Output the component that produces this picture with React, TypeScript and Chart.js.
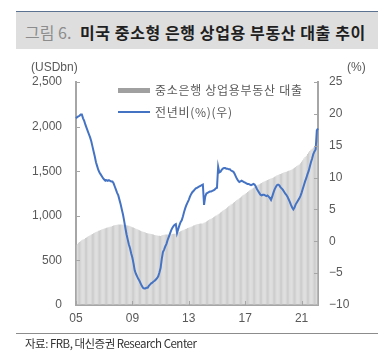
import React, { useEffect, useRef } from 'react';
import { Chart, registerables } from 'chart.js';

Chart.register(...registerables);

// ---- data -------------------------------------------------------------
const START_YEAR = 2005;
const MONTH_COUNT = 207; // Jan 2005 .. Mar 2022 (monthly)
const months: string[] = Array.from({ length: MONTH_COUNT }, (_, i) => {
  const y = START_YEAR + Math.floor(i / 12);
  const m = (i % 12) + 1;
  return `${y}-${m < 10 ? '0' + m : m}`;
});
const tickYears = ['05', '09', '13', '17', '21'];

// 중소은행 상업용부동산 대출 (USDbn, left axis)
const loans: number[] = [
  672, 685, 697, 707, 716, 725, 733, 741, 750, 758, 766, 773,
  783, 790, 797, 804, 811, 818, 825, 831, 836, 842, 847, 852,
  857, 861, 865, 869, 873, 877, 881, 886, 891, 895, 898, 900,
  902, 903, 903, 902, 901, 899, 897, 894, 891, 888, 884, 878,
  873, 868, 862, 856, 850, 845, 839, 833, 828, 822, 817, 813,
  808, 804, 801, 798, 795, 792, 789, 786, 783, 780, 777, 775,
  774, 778, 784, 788, 789, 790, 790, 791, 792, 794, 796, 798,
  800, 802, 806, 812, 819, 826, 833, 839, 845, 851, 856, 862,
  867, 872, 878, 884, 890, 895, 900, 904, 908, 911, 913, 914,
  915, 921, 928, 936, 944, 952, 960, 968, 976, 985, 993, 1001,
  1006, 1016, 1026, 1036, 1046, 1056, 1066, 1076, 1086, 1096, 1106, 1116,
  1126, 1136, 1146, 1156, 1166, 1176, 1186, 1196, 1206, 1216, 1227, 1237,
  1247, 1257, 1267, 1276, 1286, 1296, 1306, 1315, 1324, 1333, 1341, 1348,
  1355, 1362, 1369, 1376, 1383, 1389, 1395, 1401, 1406, 1412, 1418, 1424,
  1430, 1437, 1444, 1451, 1458, 1465, 1470, 1475, 1480, 1485, 1490, 1495,
  1500, 1505, 1508, 1514, 1522, 1530, 1539, 1548, 1557, 1566, 1576, 1590,
  1606, 1624, 1641, 1658, 1674, 1692, 1710, 1726, 1740, 1753, 1766, 1779,
  1792, 1806, 1822,
];

// 전년비 (%, right axis)
const yoy: number[] = [
  19.3, 19.5, 19.6, 19.7, 19.9, 19.9, 19.3, 18.9, 18.3, 17.8, 17.3, 16.8,
  16.3, 15.7, 14.9, 14.1, 13.3, 12.4, 11.8, 11.2, 10.8, 10.5, 10.2, 9.9,
  9.7, 9.5, 9.6, 9.5, 9.6, 9.5, 9.4, 9.4, 9.1, 8.6, 8.1, 7.6,
  7.2, 6.5, 5.8, 5.0, 4.2, 3.2, 2.1, 1.1, 0.3, -0.5, -1.1, -1.9,
  -2.6, -3.5, -4.6, -5.1, -5.5, -5.9, -6.2, -6.6, -7.0, -7.3, -7.4, -7.4,
  -7.3, -7.3, -7.0, -6.8, -6.6, -6.5, -6.3, -6.2, -6.0, -5.8, -5.5, -4.9,
  -4.2, -2.8, -1.7, -1.3, -0.8, -0.4, 0.2, 0.7, 1.2, 1.7, 2.1, 2.4,
  2.6, 2.7, 1.3, 1.9, 2.5, 3.0, 3.3, 3.9, 4.6, 5.2, 5.7, 6.1,
  6.5, 7.0, 7.4, 7.7, 7.9, 8.1, 8.3, 8.4, 8.5, 8.6, 8.7, 8.8,
  8.9, 5.7, 7.0, 7.5, 7.6, 7.7, 7.8, 7.8, 7.9, 8.0, 8.1, 8.3,
  8.4, 11.7, 10.8, 10.9, 11.2, 11.4, 11.5, 11.5, 11.4, 11.4, 11.3, 11.3,
  11.1, 11.0, 10.9, 10.6, 10.2, 9.8, 9.5, 9.3, 9.4, 9.5, 9.4, 9.3,
  9.2, 9.1, 9.0, 9.0, 8.9, 8.8, 8.9, 9.0, 8.9, 8.6, 8.2, 7.9,
  7.6, 7.3, 7.2, 7.3, 7.3, 7.2, 7.1, 7.2, 7.0, 6.8, 6.5, 7.0,
  7.6, 8.1, 8.5, 8.8, 8.9, 8.8, 8.5, 8.3, 8.1, 7.8, 7.5, 7.3,
  7.0, 6.6, 6.2, 5.7, 5.3, 5.0, 5.3, 5.8, 6.1, 6.4, 6.7, 7.1,
  7.6, 8.2, 8.8, 9.4, 9.9, 10.5, 11.0, 11.7, 12.4, 13.0, 13.7, 14.1,
  14.4, 17.4, 17.7,
];

const LEFT_MIN = 0, LEFT_MAX = 2500, LEFT_STEP = 500;
const RIGHT_MIN = -10, RIGHT_MAX = 25, RIGHT_STEP = 5;

// ---- styles -----------------------------------------------------------
const AXIS_COLOR = '#a6a6a6';
const TICK_COLOR = '#595959';
const BAR_COLOR = '#c4c4c4';
const LINE_COLOR = '#4573c4';
const FONT = '"Liberation Sans", Arial, "Noto Sans CJK KR", sans-serif';
const KFONT = '"Noto Sans CJK KR", "Liberation Sans", sans-serif';

const inwardTicks = {
  id: 'inwardTicks',
  afterDatasetsDraw(chart: any) {
    const { ctx, chartArea, scales } = chart;
    ctx.save();
    ctx.strokeStyle = AXIS_COLOR;
    ctx.lineWidth = 1;
    const seg = (x1: number, y1: number, x2: number, y2: number) => {
      ctx.beginPath();
      ctx.moveTo(x1, y1);
      ctx.lineTo(x2, y2);
      ctx.stroke();
    };
    scales.y.ticks.forEach((t: any) => {
      const p = Math.round(scales.y.getPixelForValue(t.value)) + 0.5;
      seg(chartArea.left, p, chartArea.left + 4, p);
    });
    scales.y1.ticks.forEach((t: any) => {
      const p = Math.round(scales.y1.getPixelForValue(t.value)) + 0.5;
      seg(chartArea.right - 4, p, chartArea.right, p);
    });
    tickYears.forEach((yy) => {
      const idx = months.indexOf(`20${yy}-01`);
      if (idx < 0) return;
      const p = Math.round(scales.x.getPixelForValue(idx)) + 0.5;
      seg(p, chartArea.bottom, p, chartArea.bottom - 4);
    });
    ctx.restore();
  },
};

export default function App() {
  const ref = useRef<HTMLCanvasElement>(null);

  useEffect(() => {
    if (!ref.current) return;
    const chart = new Chart(ref.current, {
      type: 'bar',
      data: {
        labels: months,
        datasets: [
          {
            type: 'line',
            label: '전년비(%)(우)',
            data: yoy,
            yAxisID: 'y1',
            borderColor: LINE_COLOR,
            borderWidth: 2,
            pointRadius: 0,
            tension: 0,
            order: 0,
          } as any,
          {
            type: 'bar',
            label: '중소은행 상업용부동산 대출',
            data: loans,
            yAxisID: 'y',
            backgroundColor: BAR_COLOR,
            barPercentage: 0.7,
            categoryPercentage: 1,
            order: 1,
          },
        ],
      },
      options: {
        responsive: false,
        animation: false,
        devicePixelRatio: 1,
        layout: { padding: { top: 82, left: 0, right: 0, bottom: 29 } },
        plugins: { legend: { display: false }, tooltip: { enabled: false }, title: { display: false } },
        scales: {
          x: {
            type: 'category',
            offset: false,
            z: 1,
            grid: { display: false, drawTicks: false },
            border: { display: true, color: AXIS_COLOR, width: 2 },
            ticks: {
              autoSkip: false,
              maxRotation: 0,
              padding: 6,
              color: TICK_COLOR,
              font: { family: FONT, size: 12 },
              callback: (_v: any, i: number) => {
                const lab = months[i];
                if (!lab || !lab.endsWith('-01')) return null;
                const yy = lab.slice(2, 4);
                return tickYears.includes(yy) ? yy : null;
              },
            },
            afterFit: (s: any) => { s.height = 22; },
          },
          y: {
            position: 'left',
            min: LEFT_MIN,
            max: LEFT_MAX,
            z: 1,
            grid: { display: false, drawTicks: false },
            border: { display: true, color: AXIS_COLOR, width: 2 },
            ticks: {
              stepSize: LEFT_STEP,
              padding: 14,
              color: TICK_COLOR,
              font: { family: FONT, size: 12 },
              callback: (v: any) => Number(v).toLocaleString('en-US'),
            },
            afterFit: (s: any) => { s.width = 76; },
          },
          y1: {
            position: 'right',
            min: RIGHT_MIN,
            max: RIGHT_MAX,
            z: 1,
            grid: { display: false, drawTicks: false, drawOnChartArea: false },
            border: { display: true, color: AXIS_COLOR, width: 2 },
            ticks: {
              stepSize: RIGHT_STEP,
              padding: 11,
              color: TICK_COLOR,
              font: { family: FONT, size: 12 },
              callback: (v: any) => (Number(v) < 0 ? '\u2212' + Math.abs(Number(v)) : String(v)),
            },
            afterFit: (s: any) => { s.width = 74; },
          },
        },
      },
      plugins: [inwardTicks],
    });
    return () => chart.destroy();
  }, []);

  const abs = (o: React.CSSProperties): React.CSSProperties => ({ position: 'absolute', whiteSpace: 'nowrap', ...o });

  return (
    <div style={{ position: 'absolute', left: 0, top: 0, width: 392, height: 356, background: '#fff', overflow: 'hidden' }}>
      {/* title band */}
      <div style={abs({ left: 16, top: 11, width: 362, height: 38, background: '#dedede', borderTop: '1px solid #5b7390', boxSizing: 'border-box' })} />
      <div style={abs({ left: 25, top: 13, height: 38, lineHeight: '38px', fontFamily: KFONT, fontSize: 16 })}>
        <span style={{ color: '#8c8c8c', fontWeight: 400 }}>그림 6. </span>
        <span style={{ color: '#1f1f1f', fontWeight: 700, marginLeft: 5, letterSpacing: 0.6 }}>미국 중소형 은행 상업용 부동산 대출 추이</span>
      </div>

      <canvas ref={ref} width={392} height={356} style={{ position: 'absolute', left: 0, top: 0, width: 392, height: 356 }} />

      {/* axis units */}
      <div style={abs({ left: 31, top: 59, lineHeight: '16px', fontFamily: FONT, fontSize: 12, color: TICK_COLOR })}>(USDbn)</div>
      <div style={abs({ left: 347, top: 59, lineHeight: '16px', fontFamily: FONT, fontSize: 12, color: TICK_COLOR })}>(%)</div>

      {/* legend */}
      <div style={abs({ left: 118, top: 88, width: 32, height: 5, background: '#a0a0a0' })} />
      <div style={abs({ left: 155, top: 82, lineHeight: '16px', fontFamily: KFONT, fontSize: 12, color: TICK_COLOR, letterSpacing: 0.7 })}>중소은행 상업용부동산 대출</div>
      <div style={abs({ left: 118, top: 111, width: 32, height: 2, background: LINE_COLOR })} />
      <div style={abs({ left: 155, top: 104, lineHeight: '16px', fontFamily: KFONT, fontSize: 12, color: TICK_COLOR, letterSpacing: 0.7 })}>전년비(%)(우)</div>

      {/* source */}
      <div style={abs({ left: 16, top: 333, width: 362, height: 1, background: '#8c8c8c' })} />
      <div style={abs({ left: 25, top: 336, lineHeight: '15px', fontFamily: KFONT, fontSize: 11.5, color: '#333', letterSpacing: -0.5 })}>자료: FRB, 대신증권 Research Center</div>
    </div>
  );
}
